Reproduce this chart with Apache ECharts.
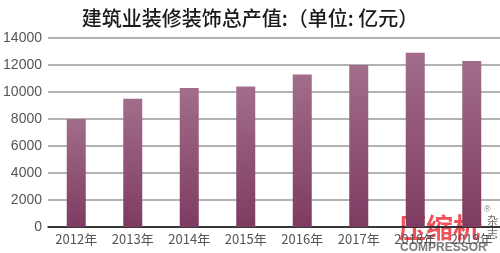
<!DOCTYPE html>
<html><head><meta charset="utf-8">
<script src="https://cdn.jsdelivr.net/npm/echarts@6/dist/echarts.min.js"></script>
<style>html,body{margin:0;padding:0;background:#fff}#c{width:500px;height:253px}</style>
</head><body><div id="c"></div>
<script>
const categories = ['2012年','2013年','2014年','2015年','2016年','2017年','2018年','2019年'];
const values = [8000, 9500, 10300, 10400, 11300, 12000, 12900, 12300];
const yTicks = [0, 2000, 4000, 6000, 8000, 10000, 12000, 14000];
const titleText = '建筑业装修装饰总产值:（单位: 亿元）';

const chart = echarts.init(document.getElementById('c'), null, {renderer:'canvas'});
chart.setOption({
  animation:false,
  title:{text:titleText,left:'center',top:3,textStyle:{fontFamily:'Noto Sans CJK SC',fontSize:20,fontWeight:500,color:'#1a1a1a'}},
  grid:{left:48,right:0,top:38,bottom:26},
  xAxis:{type:'category',data:categories,
    axisLine:{lineStyle:{color:'#111',width:1.5}},
    axisTick:{show:false},
    axisLabel:{color:'#555',fontSize:13,fontFamily:'Noto Sans CJK SC',margin:6,interval:0}},
  yAxis:{type:'value',min:yTicks[0],max:yTicks[yTicks.length-1],interval:2000,
    axisLine:{show:false},axisTick:{show:false},
    axisLabel:{color:'#555',fontSize:14,fontFamily:'Liberation Sans',margin:6,formatter:v=>String(v)},
    splitLine:{lineStyle:{color:'#999',width:1.5}}},
  series:[{type:'bar',data:values,barWidth:19,
    itemStyle:{color:new echarts.graphic.LinearGradient(0,0,0,1,[{offset:0,color:'#a26d8b'},{offset:1,color:'#7e3b61'}])}}],
  graphic:[
    {type:'text',left:399,top:214,style:{text:'压缩机',fill:'rgba(235,50,60,0.85)',font:'bold 27px "Noto Sans CJK SC"'}},
    {type:'text',left:400,top:242,style:{text:'COMPRESSOR',fill:'rgba(90,90,90,0.8)',font:'bold 12px "Liberation Sans"'}},
    {type:'text',left:484,top:205,style:{text:'®',fill:'#888',font:'9px "Liberation Sans"'}},
    {type:'text',left:487,top:214,style:{text:'杂\n志',fill:'#666',font:'11px "Noto Sans CJK SC"',lineHeight:13}}
  ]
});
</script></body></html>
